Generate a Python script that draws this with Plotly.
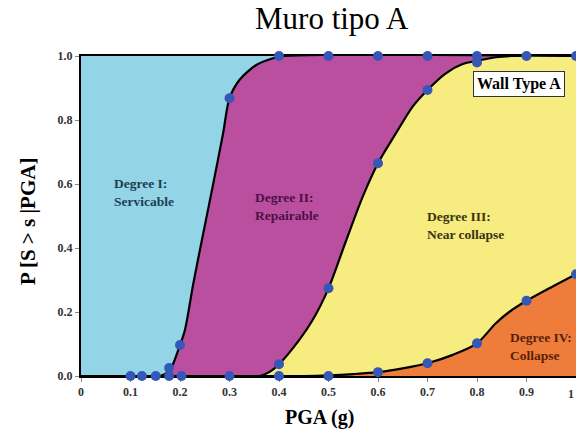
import plotly.graph_objects as go

# Fragility curves (PGA in g, probability of exceedance)
pga_ds1 = [0, 0.16, 0.18, 0.2, 0.21, 0.227, 0.247, 0.267, 0.287, 0.3, 0.32, 0.354, 0.388, 0.41, 1.0]
p_ds1 = [0, 0, 0.02, 0.097, 0.144, 0.29, 0.446, 0.60, 0.758, 0.868, 0.925, 0.972, 0.993, 1.0, 1.0]

pga_ds2 = [0, 0.36, 0.381, 0.4, 0.441, 0.468, 0.5, 0.536, 0.569, 0.6, 0.636, 0.67, 0.7, 0.737, 0.771, 0.8, 0.838, 0.87, 1.0]
p_ds2 = [0, 0, 0.013, 0.037, 0.113, 0.175, 0.274, 0.425, 0.56, 0.665, 0.758, 0.842, 0.894, 0.946, 0.975, 0.985, 0.996, 1.0, 1.0]

pga_ds3 = [0, 0.45, 0.5, 0.55, 0.6, 0.65, 0.7, 0.751, 0.8, 0.838, 0.865, 0.9, 0.952, 1.0]
p_ds3 = [0, 0, 0.002, 0.006, 0.012, 0.024, 0.04, 0.066, 0.102, 0.165, 0.2, 0.235, 0.279, 0.318]

# Observed points (blue dots)
obs_pga = [0.1, 0.123, 0.151, 0.178, 0.178, 0.2, 0.203, 0.3, 0.3, 0.4, 0.4, 0.4,
           0.5, 0.5, 0.5, 0.6, 0.6, 0.6, 0.7, 0.7, 0.7, 0.8, 0.8, 0.8, 0.9, 0.9, 1.0, 1.0]
obs_p = [0, 0, 0, 0, 0.025, 0.097, 0, 0.868, 0, 1, 0.037, 0,
         1, 0.274, 0, 1, 0.665, 0.012, 1, 0.894, 0.04, 1, 0.98, 0.102, 1, 0.235, 1, 0.318]

y_ticks = [0, 0.2, 0.4, 0.6, 0.8, 1.0]
x_ticks = [0, 0.1, 0.2, 0.3, 0.4, 0.5, 0.6, 0.7, 0.8, 0.9]
x_ticktext = ["0", "0.1", "0.2", "0.3", "0.4", "0.5", "0.6", "0.7", "0.8", "0.9"]
x_last_tick = "1"

region_labels = ["Degree I:<br>Servicable", "Degree II:<br>Repairable",
                 "Degree III:<br>Near collapse", "Degree IV:<br>Collapse"]
label_pga = [0.062, 0.347, 0.694, 0.862]
label_p = [0.572, 0.53, 0.469, 0.091]
label_colors = ["#1d3d52", "#4d0f47", "#3a3410", "#5a1e08"]

C_CYAN = "#93D5E6"
C_MAG = "#BA4F9F"
C_YEL = "#F7EC80"
C_ORA = "#EE7D3B"
SERIF = "Liberation Serif"

fig = go.Figure()
for xs, ys, col in [(pga_ds1, p_ds1, C_MAG), (pga_ds2, p_ds2, C_YEL), (pga_ds3, p_ds3, C_ORA)]:
    fig.add_trace(go.Scatter(
        x=xs, y=ys, mode="lines", fill="tozeroy", fillcolor=col,
        line=dict(color="black", width=2.2, shape="spline", smoothing=0.8),
        hoverinfo="skip", showlegend=False))

fig.add_trace(go.Scatter(
    x=obs_pga, y=obs_p, mode="markers", cliponaxis=False,
    marker=dict(size=10, color="#3558B6"), showlegend=False))

annotations = []
for t, x, y, c in zip(region_labels, label_pga, label_p, label_colors):
    annotations.append(dict(x=x, y=y, xref="x", yref="y", text=t, showarrow=False,
                            xanchor="left", yanchor="middle", align="left",
                            font=dict(family=SERIF, size=13.5, color=c, weight="bold")))

annotations.append(dict(x=0.884, y=0.9125, xref="x", yref="y", text="Wall Type A",
                        showarrow=False, bgcolor="white", bordercolor="#333333",
                        borderwidth=1, borderpad=3,
                        font=dict(family=SERIF, size=16, color="black", weight="bold")))

annotations.append(dict(x=(332 - 81) / 495, y=(376 - 19) / 320, xref="paper", yref="paper",
                        text="Muro tipo A", showarrow=False, xanchor="center", yanchor="middle",
                        font=dict(family=SERIF, size=31, color="black")))
annotations.append(dict(x=(319 - 81) / 495, y=(376 - 417) / 320, xref="paper", yref="paper",
                        text="PGA (g)", showarrow=False, xanchor="center", yanchor="middle",
                        font=dict(family=SERIF, size=20, color="black", weight="bold")))
annotations.append(dict(x=(28 - 81) / 495, y=(376 - 222) / 320, xref="paper", yref="paper",
                        text="P [S > s |PGA]", showarrow=False, textangle=-90,
                        xanchor="center", yanchor="middle",
                        font=dict(family=SERIF, size=21, color="black", weight="bold")))
annotations.append(dict(x=1.0, y=(376 - 394) / 320, xref="paper", yref="paper",
                        text=x_last_tick, showarrow=False, xanchor="right", yanchor="middle",
                        font=dict(family=SERIF, size=12, color="#333333", weight="bold")))

fig.update_layout(
    width=576, height=434,
    margin=dict(l=81, r=0, t=56, b=58),
    paper_bgcolor="white", plot_bgcolor=C_CYAN,
    annotations=annotations,
    xaxis=dict(range=[0, 1.0], tickvals=x_ticks, ticktext=x_ticktext,
               showgrid=False, zeroline=False, showline=True, linecolor="black", linewidth=2,
               mirror=True, ticks="outside", ticklen=4, tickcolor="#888888",
               layer="below traces",
               tickfont=dict(family=SERIF, size=12, color="#333333", weight="bold")),
    yaxis=dict(range=[0, 1], tickvals=y_ticks, tickformat=".1f",
               showgrid=False, zeroline=False, showline=True, linecolor="black", linewidth=2,
               ticks="outside", ticklen=4, tickcolor="#888888", layer="below traces",
               tickfont=dict(family=SERIF, size=12, color="#333333", weight="bold")),
)

fig.write_html("out.html")
